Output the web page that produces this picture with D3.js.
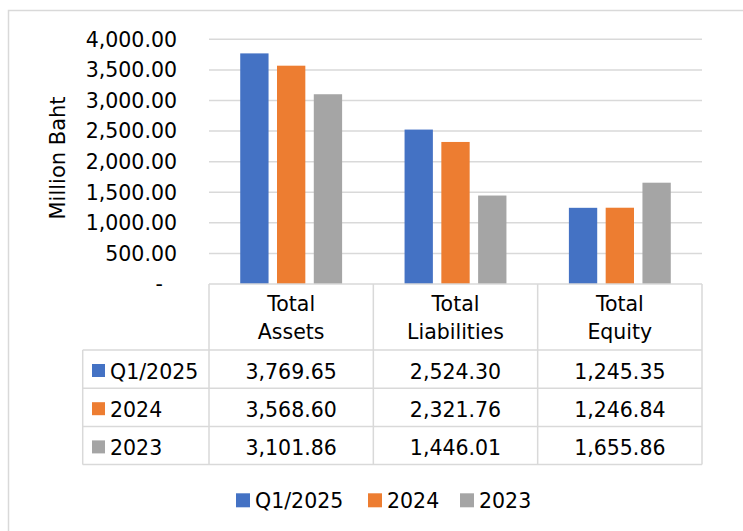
<!DOCTYPE html>
<html>
<head>
<meta charset="utf-8">
<script src="https://cdn.jsdelivr.net/npm/d3@7/dist/d3.min.js"></script>
<style>
  body { margin: 0; background: #fff; }
  svg text { font-family: "DejaVu Sans", Verdana, sans-serif; font-size: 20.5px; fill: #000; }
</style>
</head>
<body>
<div id="chart"></div>
<script>
const categories = ["Total Assets", "Total Liabilities", "Total Equity"];
const headerLines = [["Total", "Assets"], ["Total", "Liabilities"], ["Total", "Equity"]];
const seriesNames = ["Q1/2025", "2024", "2023"];
const colors = ["#4472C4", "#ED7D31", "#A5A5A5"];
const q12025 = [3769.65, 2524.30, 1245.35];
const y2024 = [3568.60, 2321.76, 1246.84];
const y2023 = [3101.86, 1446.01, 1655.86];
const yTicks = [0, 500, 1000, 1500, 2000, 2500, 3000, 3500, 4000];
const yTickLabels = ["-", "500.00", "1,000.00", "1,500.00", "2,000.00", "2,500.00", "3,000.00", "3,500.00", "4,000.00"];

const series = [q12025, y2024, y2023];

const W = 743, H = 531;
const plot = {left: 209, right: 702, top: 39.3, bottom: 284};
const grid = "#d9d9d9";
const fmt = d3.format(",.2f");

const svg = d3.select("#chart").append("svg")
  .attr("width", W)
  .attr("height", H);

// outer chart border (cropped on the right and bottom)
svg.append("rect")
  .attr("x", 8.5).attr("y", 10.5)
  .attr("width", W).attr("height", H)
  .attr("fill", "none")
  .attr("stroke", grid)
  .attr("stroke-width", 1.5);

const x = d3.scaleBand()
  .domain(categories)
  .range([plot.left, plot.right])
  .paddingInner(0.38)
  .paddingOuter(0.19);

const x1 = d3.scaleBand()
  .domain(seriesNames)
  .range([0, x.bandwidth()])
  .paddingInner(0.23);

const y = d3.scaleLinear()
  .domain([0, 4000])
  .range([plot.bottom, plot.top]);

// gridlines
svg.append("g")
  .selectAll("line")
  .data(yTicks.filter(d => d > 0))
  .join("line")
  .attr("x1", plot.left).attr("x2", plot.right)
  .attr("y1", d => y(d)).attr("y2", d => y(d))
  .attr("stroke", grid)
  .attr("stroke-width", 1.5);

// y axis labels
const yAxis = svg.append("g")
  .attr("transform", "translate(177,0)")
  .call(d3.axisLeft(y).tickValues(yTicks).tickSize(0).tickPadding(0)
    .tickFormat((d, i) => yTickLabels[i]));
yAxis.select(".domain").remove();
yAxis.selectAll("text")
  .attr("dy", "0.33em")
  .attr("dx", d => d === 0 ? -14 : 0);

svg.append("text")
  .attr("transform", "translate(65,158) rotate(-90)")
  .attr("text-anchor", "middle")
  .style("font-size", "21px")
  .text("Million Baht");

// bars
const groups = svg.append("g")
  .selectAll("g")
  .data(categories)
  .join("g")
  .attr("transform", d => "translate(" + x(d) + ",0)");

groups.selectAll("rect")
  .data((c, ci) => seriesNames.map((s, si) => ({s: s, si: si, v: series[si][ci]})))
  .join("rect")
  .attr("x", d => x1(d.s))
  .attr("width", x1.bandwidth())
  .attr("y", d => y(d.v))
  .attr("height", d => y(0) - y(d.v))
  .attr("fill", d => colors[d.si]);

// data table
const table = svg.append("g");
const headerBottom = 350;
const rowH = 38.2;
const colEdges = categories.map(c => x(c) - x.step() * x.paddingInner() / 2).concat([plot.right]);
const tableBottom = headerBottom + rowH * seriesNames.length;
const labelLeft = 82.7;

// horizontal lines
table.append("line")
  .attr("x1", plot.left).attr("x2", plot.right)
  .attr("y1", plot.bottom).attr("y2", plot.bottom)
  .attr("stroke", grid).attr("stroke-width", 1.5);
d3.range(seriesNames.length + 1).forEach(i => {
  table.append("line")
    .attr("x1", labelLeft).attr("x2", plot.right)
    .attr("y1", headerBottom + i * rowH).attr("y2", headerBottom + i * rowH)
    .attr("stroke", grid).attr("stroke-width", 1.5);
});
// vertical lines
colEdges.forEach(cx => {
  table.append("line")
    .attr("x1", cx).attr("x2", cx)
    .attr("y1", plot.bottom).attr("y2", tableBottom)
    .attr("stroke", grid).attr("stroke-width", 1.5);
});
table.append("line")
  .attr("x1", labelLeft).attr("x2", labelLeft)
  .attr("y1", headerBottom).attr("y2", tableBottom)
  .attr("stroke", grid).attr("stroke-width", 1.5);

// header
categories.forEach((c, ci) => {
  const cx = x(c) + x.bandwidth() / 2;
  headerLines[ci].forEach((ln, li) => {
    table.append("text")
      .attr("x", cx)
      .attr("y", 311 + li * 28.3)
      .attr("text-anchor", "middle")
      .text(ln);
  });
});

// rows
seriesNames.forEach((s, si) => {
  const base = headerBottom + si * rowH + 28.5;
  table.append("rect")
    .attr("x", 92).attr("y", base - 14.5)
    .attr("width", 13).attr("height", 13)
    .attr("fill", colors[si]);
  table.append("text")
    .attr("x", 110).attr("y", base)
    .text(s);
  categories.forEach((c, ci) => {
    table.append("text")
      .attr("x", x(c) + x.bandwidth() / 2)
      .attr("y", base)
      .attr("text-anchor", "middle")
      .text(fmt(series[si][ci]));
  });
});

// legend
const legend = svg.append("g").attr("transform", "translate(236,508.3)");
const legendX = [0, 132, 224];
seriesNames.forEach((s, si) => {
  const g = legend.append("g").attr("transform", "translate(" + legendX[si] + ",0)");
  g.append("rect")
    .attr("x", 0).attr("y", -15)
    .attr("width", 14).attr("height", 14)
    .attr("fill", colors[si]);
  g.append("text")
    .attr("x", 19).attr("y", 0)
    .text(s);
});
</script>
</body>
</html>
